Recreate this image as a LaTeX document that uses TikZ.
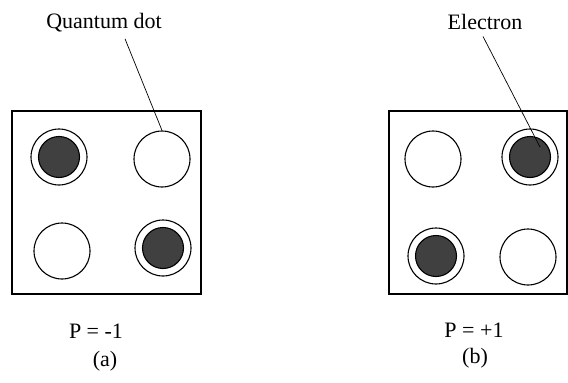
\documentclass[tikz,border=0pt]{standalone}
\usepackage{fontspec}
\setmainfont{Liberation Serif}
\definecolor{dotgray}{HTML}{404040}
\tikzset{
  dot/.style={circle, draw, line width=1.1pt, minimum size=56pt, inner sep=0pt},
  charge/.style={circle, draw, fill=dotgray, line width=1.1pt, minimum size=41pt, inner sep=0pt},
  cell/.style={line width=1.4pt},
  leader/.style={line width=0.7pt},
  lbl/.style={font=\fontsize{22}{26}\selectfont, anchor=base, inner sep=2pt}
}
\begin{document}
\begin{tikzpicture}[x=1pt, y=-1pt]
    \useasboundingbox (0,0) rectangle (568,383);
    % Cellule (a)
    \draw[cell] (12,111) rectangle (201,294);
    \node[dot] (a11) at (59,157) {};
    \node[charge] (e11) at (59,157) {};
    \node[dot] (a12) at (162,159) {};
    \node[dot] (a21) at (62,251) {};
    \node[dot] (a22) at (163,248) {};
    \node[charge] (e22) at (163,248) {};
    % Cellule (b)
    \draw[cell] (389,111) rectangle (567,294);
    \node[dot] (b11) at (433,159) {};
    \node[dot] (b12) at (530,157) {};
    \node[charge] (e12) at (530,157) {};
    \node[dot] (b21) at (436,256) {};
    \node[charge] (e21) at (436,256) {};
    \node[dot] (b22) at (528,257) {};
    % Labels
    \node[lbl] (qd) at (104,28) {Quantum dot};
    \draw[leader] ([xshift=21pt,yshift=-5pt]qd.south) -- (a12.north);
    \node[lbl] (el) at (485,29) {Electron};
    \coordinate (etip) at ([shift={(10pt,10pt)}]e12.center);
    \draw[leader] ([xshift=-2pt,yshift=-5pt]el.south) -- (etip);
    \node[lbl] (pa) at (96,338) {P = -1};
    \node[lbl] (ca) at (105,366) {(a)};
    \node[lbl] (pb) at (474,337) {P = +1};
    \node[lbl] (cb) at (475,363) {(b)};
\end{tikzpicture}
\end{document}
